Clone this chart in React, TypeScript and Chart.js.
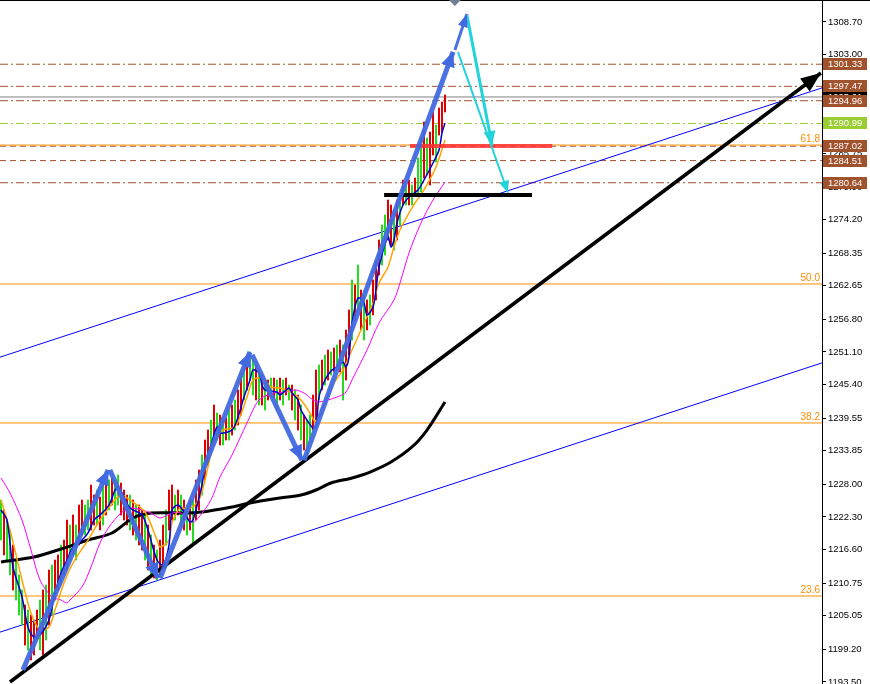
import React, { useEffect, useRef } from 'react';
import { Chart, registerables } from 'chart.js';
Chart.register(...registerables);

// ---------- DATA ----------
const yTicks = [1308.70, 1303.00, 1297.30, 1291.45, 1285.75, 1279.90, 1274.20, 1268.35, 1262.65, 1256.80, 1251.10, 1245.40, 1239.55, 1233.85, 1228.00, 1222.30, 1216.60, 1210.75, 1205.05, 1199.20, 1193.50];

const barHighs = [
  1225.27, 1223.52, 1221.77, 1220.03, 1217.41, 1214.79, 1212.17, 1209.56, 1206.94, 1206.06,
  1205.19, 1204.32, 1206.06, 1207.81, 1209.56, 1210.43, 1213.05, 1213.92, 1214.79, 1215.67,
  1217.41, 1218.28, 1221.77, 1220.90, 1222.65, 1220.90, 1224.39, 1225.27, 1224.39, 1225.27,
  1227.88, 1226.14, 1227.01, 1225.79, 1227.88, 1228.76, 1228.76, 1229.11, 1228.76, 1229.63,
  1228.23, 1227.01, 1226.14, 1226.14, 1225.27, 1224.39, 1224.39, 1223.52, 1222.65, 1220.90,
  1219.16, 1217.41, 1216.54, 1218.28, 1220.90, 1223.52, 1227.01, 1227.88, 1226.14, 1227.01,
  1226.14, 1225.27, 1224.39, 1225.27, 1225.27, 1228.76, 1230.50, 1233.12, 1235.74, 1237.48,
  1239.23, 1241.85, 1240.45, 1240.10, 1239.23, 1239.58, 1240.97, 1241.85, 1242.72, 1244.47,
  1247.08, 1248.83, 1250.58, 1251.10, 1249.70, 1248.83, 1247.96, 1247.08, 1246.21, 1246.21,
  1246.56, 1246.56, 1246.21, 1246.56, 1246.21, 1246.56, 1245.34, 1245.34, 1244.47, 1243.59,
  1241.85, 1240.10, 1239.23, 1240.10, 1243.59, 1247.96, 1248.83, 1249.70, 1250.58, 1251.45,
  1251.10, 1251.80, 1252.32, 1253.19, 1252.32, 1254.94, 1258.43, 1263.67, 1262.79, 1266.28,
  1261.92, 1261.05, 1260.18, 1261.05, 1263.67, 1267.16, 1270.65, 1273.27, 1275.01, 1277.63,
  1276.76, 1275.88, 1277.63, 1278.50, 1281.12, 1280.25, 1281.12, 1280.25, 1281.47, 1284.96,
  1288.45, 1291.24, 1288.45, 1289.50, 1292.99, 1290.72, 1293.69, 1294.74, 1295.96,
];
const barLows = [
  1218.28, 1215.67, 1214.79, 1212.17, 1209.56, 1207.81, 1205.19, 1203.45, 1199.95, 1199.08,
  1197.34, 1198.21, 1200.83, 1199.08, 1198.21, 1200.83, 1203.45, 1205.19, 1207.81, 1209.56,
  1210.43, 1212.17, 1213.05, 1214.79, 1215.67, 1214.79, 1217.41, 1219.16, 1219.16, 1220.03,
  1220.03, 1220.90, 1220.90, 1220.03, 1220.90, 1222.65, 1223.52, 1224.39, 1223.52, 1224.39,
  1222.65, 1221.77, 1220.90, 1220.03, 1219.16, 1218.28, 1217.41, 1216.54, 1214.79, 1213.05,
  1212.17, 1211.65, 1211.30, 1212.17, 1213.92, 1217.41, 1220.03, 1221.77, 1221.77, 1222.65,
  1220.90, 1220.03, 1219.16, 1220.03, 1217.41, 1221.77, 1223.52, 1226.14, 1228.76, 1231.37,
  1233.12, 1234.86, 1235.74, 1234.86, 1234.86, 1235.74, 1235.74, 1236.61, 1237.48, 1238.36,
  1240.10, 1242.72, 1244.47, 1246.21, 1243.59, 1242.72, 1241.85, 1241.85, 1240.97, 1242.72,
  1243.59, 1243.07, 1240.97, 1242.72, 1241.85, 1243.59, 1242.72, 1240.97, 1239.23, 1237.48,
  1235.74, 1233.99, 1233.12, 1235.74, 1237.48, 1239.23, 1242.72, 1244.47, 1245.34, 1246.21,
  1247.08, 1247.61, 1247.96, 1247.61, 1242.72, 1246.21, 1250.58, 1253.19, 1256.68, 1258.43,
  1254.94, 1253.19, 1254.94, 1255.81, 1257.56, 1260.18, 1264.54, 1266.28, 1268.03, 1270.65,
  1269.77, 1268.90, 1270.65, 1273.27, 1276.76, 1276.76, 1276.76, 1276.76, 1278.50, 1278.50,
  1279.03, 1281.47, 1281.99, 1280.25, 1285.48, 1284.26, 1288.97, 1289.50, 1292.99,
];
const barDirs = (
  'GRGGRGGGRG' + 'RRRGRGRGRR' + 'GRRGRGRRGG' + 'RRGRGRGRGG' + 'RRRGRGRRGR' +
  'GRGRRGRRGR' + 'GRGRGRRGRR' + 'GRGRGRGRGR' + 'RGRGGRGRGR' + 'GRGRGRGRGR' +
  'GRGGRRGRGR' + 'GRGRGRRGRG' + 'RGRGRRRGGR' + 'RGRGRGRGRG' + 'GRGRRGRRR'
).split('');

const blueMA = [
  [0, 1223.52], [2, 1221.77], [4, 1213.57], [7, 1208.33], [9, 1203.10], [11, 1201.35], [13, 1201.70],
  [16, 1204.32], [18, 1209.03], [20, 1212.52], [22, 1214.79], [24, 1217.06], [27, 1218.28], [29, 1219.51],
  [31, 1221.77], [33, 1222.65], [36, 1224.39], [38, 1227.01], [39, 1227.54], [41, 1225.79], [43, 1223.87],
  [47, 1222.65], [49, 1220.03], [52, 1214.79], [54, 1213.92], [56, 1217.41], [57, 1223.52], [59, 1224.39],
  [61, 1223.17], [63, 1221.42], [64, 1221.77], [67, 1227.88], [68, 1231.37], [70, 1234.86], [72, 1238.01],
  [73, 1236.96], [77, 1237.48], [79, 1239.75], [81, 1243.24], [83, 1246.21], [84, 1247.96], [86, 1247.43],
  [87, 1245.34], [88, 1244.47], [92, 1244.12], [93, 1243.59], [96, 1244.81], [97, 1243.94], [99, 1242.72],
  [100, 1240.97], [102, 1239.23], [104, 1237.83], [105, 1238.01], [106, 1243.24], [108, 1246.21], [110, 1247.78],
  [112, 1248.48], [114, 1249.35], [115, 1248.48], [116, 1250.23], [117, 1256.16], [119, 1260.53], [121, 1259.65],
  [122, 1257.56], [124, 1258.96], [125, 1261.92], [126, 1265.94], [129, 1271.17], [130, 1269.43], [131, 1270.65],
  [132, 1273.62], [134, 1276.76], [136, 1278.15], [139, 1279.38], [141, 1281.12], [144, 1284.09], [146, 1286.36],
  [147, 1289.32], [148, 1291.07],
];
const orangeMA = [
  [0, 1225.27], [3, 1220.03], [7, 1211.30], [10, 1205.54], [13, 1202.57], [16, 1203.10], [18, 1206.06],
  [21, 1210.78], [24, 1214.27], [29, 1218.28], [33, 1221.77], [38, 1225.27], [40, 1226.14], [43, 1225.27],
  [48, 1223.17], [52, 1218.28], [53, 1217.06], [56, 1218.28], [57, 1221.25], [60, 1224.04], [62, 1223.52],
  [66, 1225.27], [69, 1231.03], [71, 1235.39], [74, 1237.48], [78, 1238.01], [82, 1243.24], [84, 1246.21],
  [87, 1246.56], [90, 1244.99], [93, 1244.81], [97, 1243.94], [100, 1242.72], [103, 1240.45], [105, 1238.88],
  [108, 1242.20], [111, 1245.69], [114, 1247.96], [117, 1251.45], [120, 1254.94], [124, 1259.65], [126, 1263.14],
  [129, 1265.94], [131, 1269.43], [133, 1272.39], [136, 1275.36], [138, 1277.11], [141, 1279.38], [145, 1283.39],
  [148, 1288.10],
];
const magentaMA = [
  [0, 1229.11], [3, 1226.49], [7, 1221.77], [10, 1216.54], [13, 1211.30], [17, 1208.33], [20, 1207.81],
  [22, 1207.29], [23, 1207.81], [27, 1210.08], [30, 1213.57], [33, 1217.76], [36, 1220.55], [40, 1222.99],
  [43, 1223.87], [47, 1223.52], [50, 1222.99], [53, 1222.12], [57, 1222.99], [60, 1222.99], [64, 1221.42],
  [66, 1222.30], [70, 1225.27], [73, 1229.28], [77, 1233.12], [82, 1238.71], [86, 1242.72], [91, 1243.94],
  [95, 1244.12], [98, 1244.47], [101, 1243.94], [104, 1242.72], [106, 1242.37], [112, 1243.24], [115, 1244.12],
  [117, 1246.21], [122, 1251.45], [126, 1256.16], [131, 1260.18], [133, 1263.14], [136, 1268.38], [140, 1273.62],
  [144, 1277.63], [148, 1280.77],
];
const blackMA = [
  [0, 1214.44], [11, 1215.31], [20, 1216.71], [29, 1218.28], [37, 1219.51], [44, 1222.12], [50, 1222.99],
  [61, 1222.99], [67, 1223.17], [77, 1224.04], [83, 1224.74], [93, 1225.61], [100, 1226.14], [105, 1227.01],
  [110, 1228.23], [117, 1229.11], [123, 1230.15], [130, 1231.90], [137, 1234.52], [142, 1237.48], [148, 1242.37],
];

const priceLevels = [1301.33, 1297.47, 1294.96, 1290.99, 1287.02, 1284.51, 1280.64];
const bidPrice = 1295.61;
const fiboLevels = [23.6, 38.2, 50.0, 61.8];
const fiboPrices = [1208.51, 1238.71, 1262.97, 1287.22];

const channelUpper = [[-0.33, 1250.2], [273.67, 1297.2]];
const channelLower = [[-0.33, 1202.2], [273.67, 1249.2]];
const trendBlack = [[3.0, 1193.5], [273.3, 1299.8]];
const redLevel = [[136.3, 1287.05], [183.7, 1287.05]];
const blackLevel = [[127.7, 1278.5], [177.0, 1278.5]];
const waveArrows = [
  [[7.3, 1195.6], [35.7, 1230.5]],
  [[36.3, 1230.5], [52.3, 1211.6]],
  [[53.0, 1211.6], [83.0, 1251.1]],
  [[83.7, 1250.6], [100.3, 1232.2]],
  [[101.0, 1232.2], [150.7, 1303.5]],
  [[151.3, 1303.8], [155.3, 1310.1]],
];
const cyanArrows = [
  [[155.3, 1309.9], [163.7, 1287.2]],
  [[152.3, 1303.5], [169.0, 1278.9]],
];
const shiftMarker = 151.3;

// ---------- STYLE ----------
const X_MIN = -0.333;
const X_MAX = 273.667;
const Y_MIN = 1193.15;
const Y_MAX = 1312.54;
const BROWN = '#a0522d';
const LIME = '#9acd32';
const FIBO = '#ff8c00';
const FONT = '"Liberation Sans", Arial, sans-serif';
const levelStyles = [
  { color: BROWN, dash: [8, 3, 2, 3] },
  { color: BROWN, dash: [8, 3, 2, 3] },
  { color: BROWN, dash: [8, 3, 2, 3] },
  { color: LIME, dash: [8, 3, 2, 3] },
  { color: BROWN, dash: [6, 4] },
  { color: BROWN, dash: [6, 4] },
  { color: BROWN, dash: [8, 3, 2, 3] },
];

const xy = (arr: number[][]) => arr.map(([x, y]) => ({ x, y }));

const overlayPlugin = {
  id: 'overlay',
  afterDatasetsDraw(chart: any) {
    const ctx = chart.ctx;
    chart.data.datasets.forEach((ds: any, i: number) => {
      if (!ds.arrowHead) return;
      const pts = chart.getDatasetMeta(i).data;
      const a = pts[pts.length - 2];
      const b = pts[pts.length - 1];
      const ang = Math.atan2(b.y - a.y, b.x - a.x);
      const L = ds.arrowHead.len;
      const W = ds.arrowHead.wid;
      const bx = b.x - L * Math.cos(ang);
      const by = b.y - L * Math.sin(ang);
      ctx.save();
      ctx.fillStyle = ds.arrowHead.color;
      ctx.beginPath();
      ctx.moveTo(b.x, b.y);
      ctx.lineTo(bx + W * Math.sin(ang), by - W * Math.cos(ang));
      ctx.lineTo(bx - W * Math.sin(ang), by + W * Math.cos(ang));
      ctx.closePath();
      ctx.fill();
      ctx.restore();
    });
  },
  afterDraw(chart: any) {
    const { ctx, chartArea } = chart;
    const ys = chart.scales.y;
    const xs = chart.scales.x;
    ctx.save();
    ctx.font = '10px ' + FONT;
    ctx.fillStyle = FIBO;
    ctx.textAlign = 'right';
    ctx.textBaseline = 'bottom';
    fiboLevels.forEach((lv, i) => {
      ctx.fillText(lv.toFixed(1), chartArea.right - 2, ys.getPixelForValue(fiboPrices[i]) - 1);
    });
    ctx.font = '9.5px ' + FONT;
    const boxX = chartArea.right + 1;
    const drawBox = (v: number, fill: string) => {
      const py = Math.round(ys.getPixelForValue(v));
      ctx.fillStyle = fill;
      ctx.fillRect(boxX, py - 6, 44, 12);
      ctx.fillStyle = '#ffffff';
      ctx.textAlign = 'left';
      ctx.textBaseline = 'middle';
      ctx.fillText(v.toFixed(2), boxX + 5, py + 0.5);
    };
    drawBox(bidPrice, '#000000');
    priceLevels.forEach((v, i) => drawBox(v, levelStyles[i].color));
    ctx.fillStyle = '#000';
    ctx.fillRect(0, 0, chart.width, 1);
    const sx = xs.getPixelForValue(shiftMarker);
    ctx.fillStyle = '#708090';
    ctx.beginPath();
    ctx.moveTo(sx - 6, 0);
    ctx.lineTo(sx + 6, 0);
    ctx.lineTo(sx, 6);
    ctx.closePath();
    ctx.fill();
    ctx.restore();
  },
};

export default function App() {
  const ref = useRef<HTMLCanvasElement>(null);
  useEffect(() => {
    document.body.style.margin = '0';
    const canvas = ref.current!;
    const hline = (v: number) => [{ x: X_MIN, y: v }, { x: X_MAX, y: v }];
    const lineDs = (data: any[], color: string, width: number, order: number, extra: any = {}) => ({
      type: 'line',
      data,
      borderColor: color,
      borderWidth: width,
      pointRadius: 0,
      fill: false,
      tension: 0,
      order,
      ...extra,
    });

    const datasets: any[] = [];
    fiboPrices.forEach((p) => datasets.push(lineDs(hline(p), FIBO, 1, 20)));
    priceLevels.forEach((p, i) =>
      datasets.push(lineDs(hline(p), levelStyles[i].color, 1, 20, { borderDash: levelStyles[i].dash }))
    );
    datasets.push(lineDs(hline(bidPrice), '#808080', 1, 20));
    datasets.push(lineDs(xy(channelUpper), '#0000ff', 1, 19));
    datasets.push(lineDs(xy(channelLower), '#0000ff', 1, 19));
    datasets.push({
      type: 'bar',
      data: barHighs.map((h, i) => ({ x: i, y: [barLows[i], h] })),
      backgroundColor: barDirs.map((d) => (d === 'G' ? '#22dd22' : '#e00000')),
      barThickness: 1.4,
      borderWidth: 0,
      order: 15,
    });
    datasets.push(lineDs(xy(blackMA), '#000000', 3, 12, { tension: 0.3 }));
    datasets.push(lineDs(xy(magentaMA), '#ff00ff', 1, 11, { tension: 0.3 }));
    datasets.push(lineDs(xy(orangeMA), '#ffa500', 1.5, 10, { tension: 0.3 }));
    datasets.push(lineDs(xy(blueMA), '#0000cd', 1.5, 9, { tension: 0.3 }));
    datasets.push(lineDs(xy(trendBlack), '#000000', 3.5, 5, { arrowHead: { len: 20, wid: 8, color: '#000000' } }));
    datasets.push(lineDs(xy(redLevel), 'rgba(255,50,50,0.85)', 4, 4));
    datasets.push(lineDs(xy(blackLevel), '#000000', 4, 4));
    waveArrows.forEach((a, i) =>
      datasets.push(
        lineDs(xy(a), 'rgba(65,105,225,0.95)', i === 5 ? 3 : 5, 3, {
          arrowHead: { len: i === 5 ? 13 : 15, wid: i === 5 ? 5 : 7, color: 'rgba(65,105,225,1)' },
        })
      )
    );
    cyanArrows.forEach((a, i) =>
      datasets.push(
        lineDs(xy(a), '#22d3dc', i === 0 ? 3 : 2, 2, {
          arrowHead: { len: i === 0 ? 14 : 12, wid: i === 0 ? 6 : 5, color: '#22d3dc' },
        })
      )
    );

    const chart = new Chart(canvas, {
      type: 'bar',
      data: { datasets },
      options: {
        responsive: false,
        animation: false,
        devicePixelRatio: 1,
        layout: { padding: 0 },
        plugins: { legend: { display: false }, tooltip: { enabled: false } },
        elements: { point: { radius: 0 } },
        scales: {
          x: { type: 'linear', min: X_MIN, max: X_MAX, display: false, offset: false },
          y: {
            type: 'linear',
            position: 'right',
            min: Y_MIN,
            max: Y_MAX,
            beginAtZero: false,
            afterBuildTicks: (scale: any) => {
              scale.ticks = yTicks.map((v) => ({ value: v }));
            },
            afterFit: (scale: any) => {
              scale.width = 48;
              scale.paddingTop = 0;
              scale.paddingBottom = 0;
            },
            ticks: {
              autoSkip: false,
              padding: 2,
              color: '#000000',
              font: { family: FONT, size: 9.5 },
              callback: (v: any) => Number(v).toFixed(2),
            },
            grid: { drawOnChartArea: false, drawTicks: true, tickLength: 4, color: '#000000' },
            border: { display: true, color: '#000000', width: 1 },
          },
        },
      } as any,
      plugins: [overlayPlugin],
    } as any);
    return () => chart.destroy();
  }, []);
  return <canvas ref={ref} width={870} height={684} style={{ display: 'block' }} />;
}
